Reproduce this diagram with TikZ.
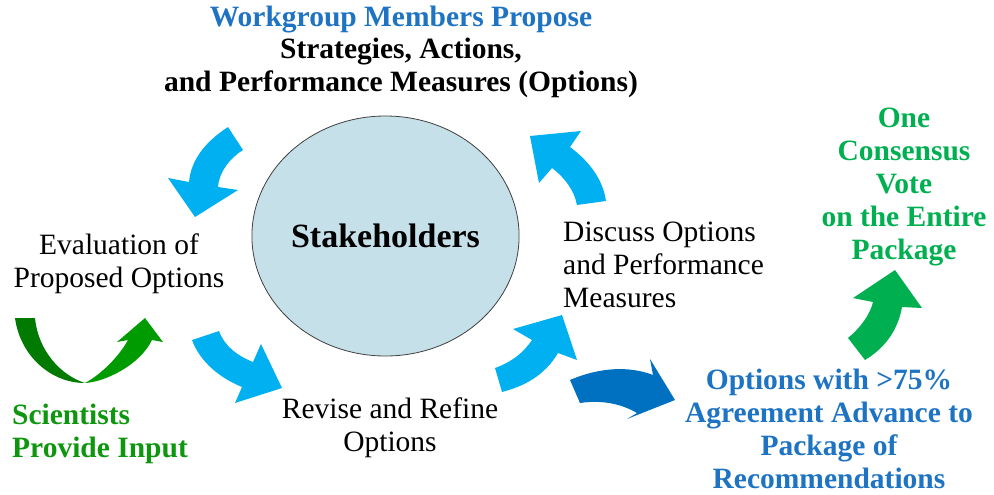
\documentclass[tikz,border=0pt]{standalone}
\usepackage{fontspec}
\setmainfont{Liberation Serif}
\usetikzlibrary{shapes.geometric}
\definecolor{lblue}{RGB}{0,176,240}
\definecolor{dblue}{RGB}{0,112,192}
\definecolor{tblue}{RGB}{30,115,195}
\definecolor{vgreen}{RGB}{0,176,80}
\definecolor{sgreen}{RGB}{14,150,14}
\definecolor{sgreendark}{RGB}{0,122,0}
\definecolor{sgreenlight}{RGB}{0,155,0}
\definecolor{ellfill}{RGB}{198,224,234}
\tikzset{
  txt/.style={inner sep=0pt, font=\fontsize{29.5}{33}\selectfont},
  btxt/.style={txt, font=\fontsize{29.5}{33}\selectfont\bfseries}
}
\begin{document}
\begin{tikzpicture}[x=1pt,y=-1pt]
\useasboundingbox (0,0) rectangle (994,495);
% central ellipse
\node[ellipse, draw=black!75, line width=0.8pt, fill=ellfill, minimum width=263pt, minimum height=240pt, inner sep=0pt,
      font=\fontsize{34}{38}\selectfont\bfseries] (stake) at (385.5,236) {Stakeholders};
% texts (base anchor = baseline of the last line)
\node[btxt, align=center, anchor=base] (title) at (401,92)
  {\textcolor{tblue}{Workgroup Members Propose}\\Strategies, Actions,\\and Performance Measures (Options)};
\node[txt, align=center, anchor=base] (eval) at (119,287) {Evaluation of\\Proposed Options};
\node[txt, align=left, anchor=base west] (disc) at (563,307) {Discuss Options\\and Performance\\Measures};
\node[txt, align=center, anchor=base] (rev) at (390,451) {Revise and Refine\\Options};
\node[btxt, align=center, anchor=base, text=tblue] (adv) at (829,488) {Options with >75\%\\Agreement Advance to\\Package of\\Recommendations};
\node[btxt, align=center, anchor=base, text=vgreen] (vote) at (904,259) {One\\Consensus\\Vote\\on the Entire\\Package};
\node[btxt, align=left, anchor=base west, text=sgreen] (sci) at (12,457) {Scientists\\Provide Input};
% arrow 1: top-left, pointing down
\fill[lblue] (228,127) .. controls (205,142) and (191,160) .. (189,182) -- (168,178) -- (195,217) -- (238,190) -- (218,187)
  .. controls (219,172) and (230,158) .. (243,150) -- cycle;
% arrow 2: top-right, pointing up-left
\fill[lblue] (606,201) .. controls (603,180) and (590,162) .. (570,147) -- (581,131) -- (530,136) -- (539,183) -- (552,168)
  .. controls (565,178) and (574,190) .. (577,205) -- cycle;
% arrow 3: bottom-left, pointing right-down
\fill[lblue] (192,340) .. controls (200,362) and (220,378) .. (242,387) -- (235,403) -- (282,388) -- (261,344) -- (253,362)
  .. controls (238,356) and (225,347) .. (219,331) -- cycle;
% arrow 4: bottom-right, pointing up-right
\fill[lblue] (495,368) .. controls (512,362) and (524,352) .. (532,340) -- (513,329) -- (562,315) -- (577,360) -- (558,353)
  .. controls (545,375) and (525,386) .. (502,392) -- cycle;
% arrow 5: dark blue
\fill[dblue] (570,380) .. controls (600,367) and (630,366) .. (653,375) -- (650,359) -- (675,400) -- (627,419) -- (637,413)
  .. controls (620,403) and (600,400) .. (580,403) -- cycle;
% arrow 6: green, up
\fill[vgreen] (848,338) .. controls (860,328) and (870,315) .. (873,302) -- (853,298) -- (895,270) -- (922,308) -- (902,307)
  .. controls (898,330) and (885,348) .. (865,360) -- cycle;
% arrow 7: scientists U-arrow
\fill[sgreendark] (15,318) .. controls (20,355) and (50,383) .. (85,383) .. controls (60,375) and (38,350) .. (35,318) -- cycle;
\fill[sgreenlight] (85,383) .. controls (105,382) and (140,365) .. (152,340) -- (163,342) -- (145,318) -- (117,342) -- (128,340)
  .. controls (118,358) and (100,375) .. (85,383) -- cycle;
\end{tikzpicture}
\end{document}
